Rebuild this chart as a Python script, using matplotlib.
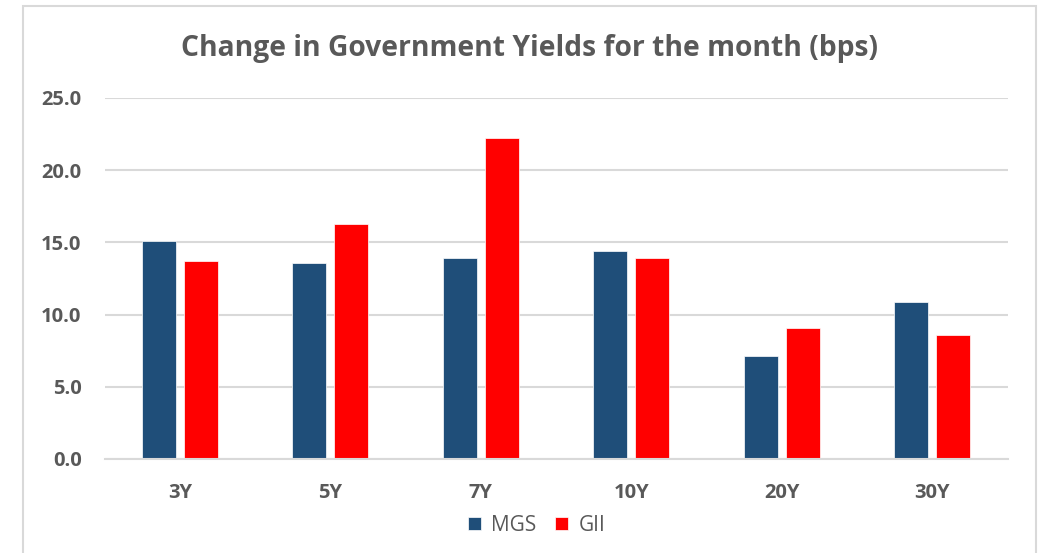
import numpy as np
import matplotlib
matplotlib.use("Agg")
import matplotlib.pyplot as plt
from matplotlib.patches import Rectangle

plt.rcParams["font.family"] = ["Open Sans", "DejaVu Sans"]

# --- data ---
tenors = ["3Y", "5Y", "7Y", "10Y", "20Y", "30Y"]
mgs = [15.1, 13.6, 13.9, 14.4, 7.1, 10.9]
gii = [13.7, 16.3, 22.2, 13.9, 9.1, 8.6]

grey = "#595959"
navy = "#1f4e79"
red = "#ff0000"

fig = plt.figure(figsize=(10.38, 5.53), dpi=100)
ax = fig.add_axes([0.1007, 0.170, 0.870, 0.6528])

x = np.arange(len(tenors))
w = 0.227
ax.bar(x - 0.14, mgs, w, color=navy, label="MGS", edgecolor="white", linewidth=0.5)
ax.bar(x + 0.14, gii, w, color=red, label="GII", edgecolor="white", linewidth=0.5)

ax.set_xlim(-0.5, len(tenors) - 0.5)
ax.set_ylim(0, 25)
ax.set_yticks(np.arange(0, 26, 5))
ax.set_yticklabels([f"{v:.1f}" for v in np.arange(0, 26, 5)])
ax.set_xticks(x)
ax.set_xticklabels(tenors)
ax.grid(axis="y", color="#d9d9d9", linewidth=1.5)
ax.set_axisbelow(True)
for s in ["top", "right", "left"]:
    ax.spines[s].set_visible(False)
ax.spines["bottom"].set_color("#d9d9d9")
ax.spines["bottom"].set_linewidth(1.5)
ax.tick_params(length=0, labelsize=14.5, labelcolor=grey)
ax.tick_params(axis="y", pad=16.5)
ax.tick_params(axis="x", pad=17)
for lab in ax.get_xticklabels() + ax.get_yticklabels():
    lab.set_fontweight("bold")

fig.text(0.51, 0.913, "Change in Government Yields for the month (bps)",
         ha="center", va="center", fontsize=20.3, fontweight="bold", color=grey)

leg = fig.legend(loc="center", bbox_to_anchor=(0.517, 0.05), ncol=2, frameon=False,
                 fontsize=15, handlelength=0.63, handleheight=0.63, handletextpad=0.5,
                 columnspacing=0.9)
for t in leg.get_texts():
    t.set_color(grey)

# chart outline
fig.patches.append(Rectangle((23 / 1038, -0.05), 1013 / 1038, 1.05 - 6 / 553,
                             transform=fig.transFigure, fill=False,
                             edgecolor="#d9d9d9", linewidth=1.5))

fig.savefig("out.png", dpi=100)
